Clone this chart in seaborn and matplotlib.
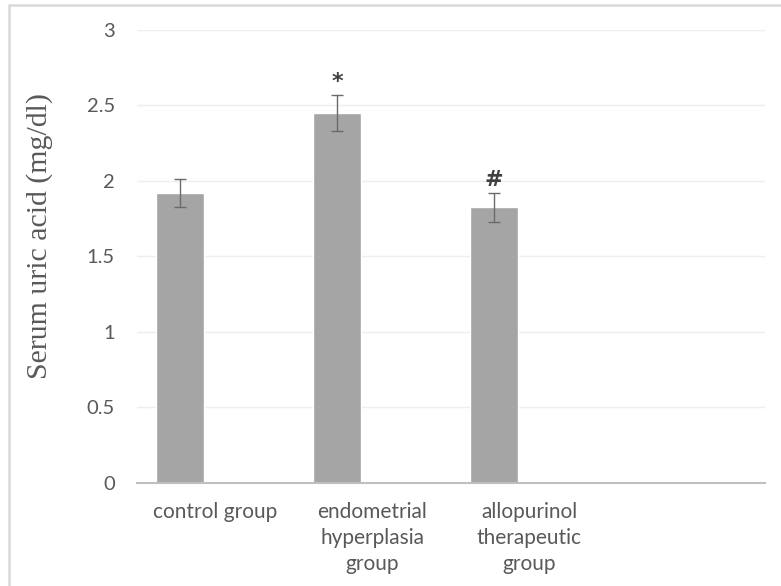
import pandas as pd
import seaborn as sns
import matplotlib.pyplot as plt
from matplotlib.patches import Rectangle

# Datos
grupos = ["control group", "endometrial\nhyperplasia\ngroup",
          "allopurinol\ntherapeutic\ngroup", ""]
medias = [1.92, 2.45, 1.825]
errores = [0.095, 0.12, 0.095]
marcas = ["", "*", "#"]
yticks = [0, 0.5, 1, 1.5, 2, 2.5, 3]
ytick_labels = ["0", "0.5", "1", "1.5", "2", "2.5", "3"]

df = pd.DataFrame({"grupo": grupos[:3], "valor": medias})

sns.set_theme(style="white")
plt.rcParams['font.family'] = ['Lato', 'DejaVu Sans']

fig = plt.figure(figsize=(7.81, 5.86), dpi=100)
ax = fig.add_axes([0.1754, 0.1758, 0.8041, 0.773])

sns.barplot(data=df, x="grupo", y="valor", order=grupos, color="#a5a5a5",
            saturation=1, width=0.306, errorbar=None, ax=ax)

# centros de las barras dibujadas por seaborn
centros = [p.get_x() + p.get_width() / 2 for p in ax.patches[:3]]
ax.errorbar(centros, medias, yerr=errores, fmt="none", ecolor="#6a6a6a",
            elinewidth=1, capsize=4.5, capthick=1, zorder=3)

for xc, m, e, s in zip(centros, medias, errores, marcas):
    if s:
        ax.annotate(s, (xc, m + e), xytext=(0, 2), textcoords="offset points",
                    ha="center", va="bottom", fontsize=16, fontweight="bold",
                    color="#404040", family=["DejaVu Sans"])

# barras desplazadas a la izquierda dentro de cada categoría (estilo Excel)
desp = 0.226
ax.set_xlim(-0.5 + desp, 3.5 + desp)
ax.set_xticks([i + desp for i in range(4)])
ax.set_xticklabels(grupos, fontsize=15, color="#595959", linespacing=1.36)
ax.set_ylim(0, 3)
ax.set_yticks(yticks)
ax.set_yticklabels(ytick_labels, fontsize=14.5, color="#595959")
ax.tick_params(axis="both", length=0)
ax.tick_params(axis="y", pad=16)
ax.tick_params(axis="x", pad=14)

for y in yticks[1:]:
    ax.axhline(y, color="#eeeeee", lw=1, zorder=0)

for lado in ["top", "right", "left"]:
    ax.spines[lado].set_visible(False)
ax.spines["bottom"].set_color("#bfbfbf")
ax.spines["bottom"].set_linewidth(1.5)

ax.set_xlabel("")
ax.set_ylabel("Serum uric acid (mg/dl)", fontsize=21.5, color="#595959",
              family=["Liberation Serif", "DejaVu Serif"])
ax.yaxis.set_label_coords(-0.133, 0.545)

# marco gris alrededor del gráfico
fig.patches.append(Rectangle((9 / 781, -0.05), 1.0, 1 - 5 / 586 + 0.05,
                             transform=fig.transFigure, fill=False,
                             edgecolor="#d9d9d9", lw=1.8))

fig.savefig("out.png", dpi=100)
